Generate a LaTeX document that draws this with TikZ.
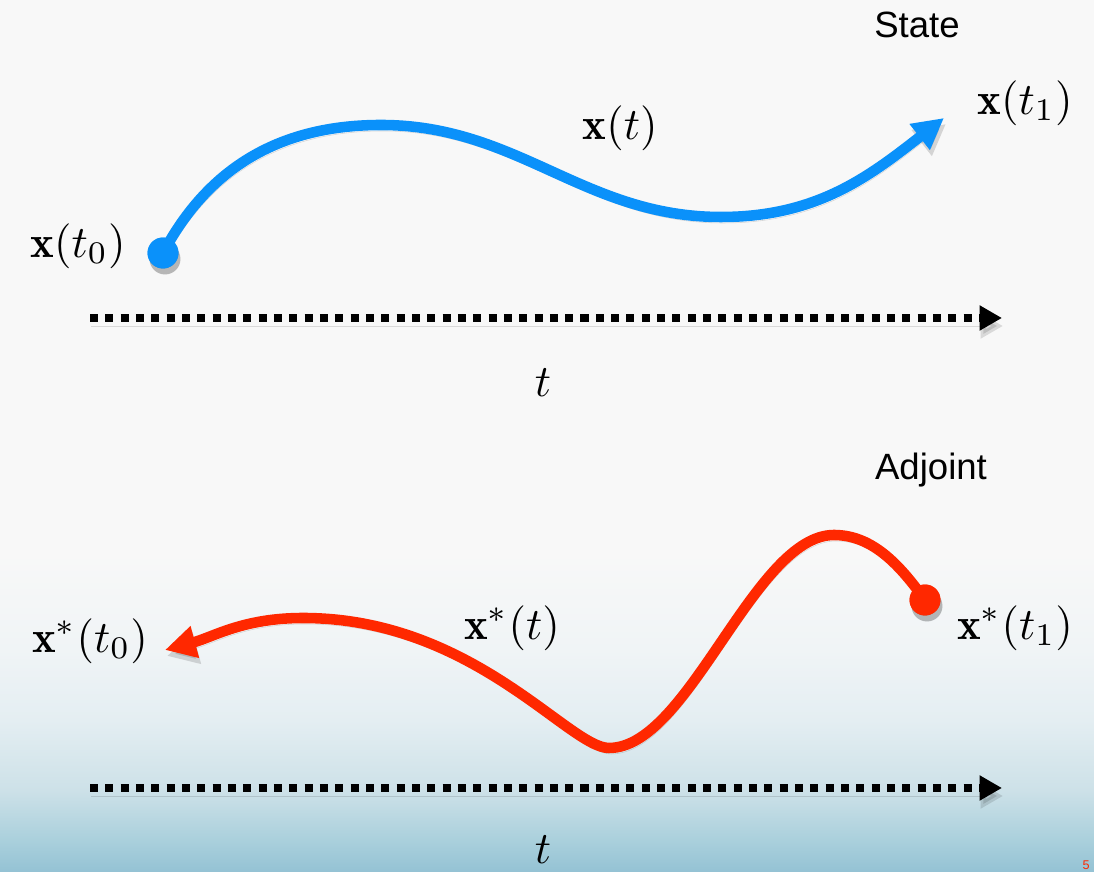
\documentclass[tikz,border=0pt]{standalone}
\usepackage{fontspec}
\setsansfont{Liberation Sans}
\usepackage{amsmath}
\usetikzlibrary{arrows.meta, positioning, calc}
\definecolor{statecol}{RGB}{10,145,250}
\definecolor{adjcol}{RGB}{255,40,0}
\definecolor{bgtop}{RGB}{248,248,248}
\definecolor{bgmidA}{RGB}{240,244,246}
\definecolor{bgmidB}{RGB}{228,238,242}
\definecolor{bgmidC}{RGB}{205,225,232}
\definecolor{bgmidD}{RGB}{170,208,220}
\definecolor{bgbot}{RGB}{148,194,212}
\pgfdeclareverticalshading{slidebg}{100bp}{color(0bp)=(bgbot); color(25bp)=(bgbot);
  color(30bp)=(bgmidD); color(37.8bp)=(bgmidC); color(48.7bp)=(bgmidB);
  color(59.7bp)=(bgmidA); color(75bp)=(bgtop); color(100bp)=(bgtop)}
\tikzset{
  traj/.style={line width=7.5pt, -{Triangle[length=22pt, width=22pt]},
               preaction={draw=black, opacity=.14, transform canvas={shift={(2,-6)}}}},
  timeaxis/.style={line width=5.7pt, dash pattern=on 5.7pt off 5.2pt,
                   -{Triangle[length=16pt, width=17pt]},
                   preaction={draw=black, opacity=.12, transform canvas={shift={(1,-8)}}}},
  enddot/.style={circle, minimum size=22pt, inner sep=0pt,
                 preaction={fill=black, opacity=.14, transform canvas={shift={(2,-6)}}}},
  mathlbl/.style={font=\normalsize, inner sep=0pt, scale=3.2, transform shape},
  heading/.style={font=\sffamily\fontsize{26}{30}\selectfont, inner sep=0pt}
}

\begin{document}
\begin{tikzpicture}[x=0.025cm, y=0.025cm]
  % background
  \useasboundingbox (0,0) rectangle (1094,872);
  \fill[bgtop] (0,0) rectangle (1094,872);
  \shade[shading=slidebg] (0,0) rectangle (1094,320);

  % state (forward in time)
  \node[heading] (state) at (917,847) {State};
  \node[enddot, fill=statecol] (x0) at (163,619) {};
  \coordinate (x1end) at (944,754);
  \draw[traj, statecol] (x0.center) to[out=62, in=180] (381,747)
    to[out=0, in=180] (721,655) to[out=0, in=218] (x1end);
  \node[enddot, fill=statecol] at (x0) {};
  \node[mathlbl] (lx0) at (78,626) {$\mathbf{x}(t_0)$};
  \node[mathlbl] (lxt) at (620,744) {$\mathbf{x}(t)$};
  \node[mathlbl] (lx1) at (1025,769) {$\mathbf{x}(t_1)$};

  \coordinate (a0) at (90,554);
  \coordinate (a1) at (1002,554);
  \draw[timeaxis] (a0) -- (a1);
  \node[mathlbl] (ta) at (543,489) {$t$};

  % adjoint (backward in time)
  \node[heading] (adjoint) at (931,402) {Adjoint};
  \node[enddot, fill=adjcol] (p1) at (925,272) {};
  \coordinate (p0end) at (165,222);
  \draw[traj, adjcol] (p1.center) .. controls +(126:40) and +(0:40) .. (834,337)
    .. controls +(180:80) and +(0:80) .. (609,124)
    .. controls +(180:40) and +(0:170) .. (303,254)
    .. controls +(180:60) and +(15:50) .. (p0end);
  \node[enddot, fill=adjcol] at (p1) {};
  \node[mathlbl] (lp0) at (90,231) {$\mathbf{x}^*(t_0)$};
  \node[mathlbl] (lpt) at (512,244) {$\mathbf{x}^*(t)$};
  \node[mathlbl] (lp1) at (1015,244) {$\mathbf{x}^*(t_1)$};

  \coordinate (b0) at (90,84);
  \coordinate (b1) at (1002,84);
  \draw[timeaxis] (b0) -- (b1);
  \node[mathlbl] (tb) at (543,22) {$t$};

  \node[anchor=south east, inner sep=0pt, text=adjcol, font=\sffamily\fontsize{9}{10}\selectfont]
    (pageno) at (1090,2) {5};
\end{tikzpicture}
\end{document}
